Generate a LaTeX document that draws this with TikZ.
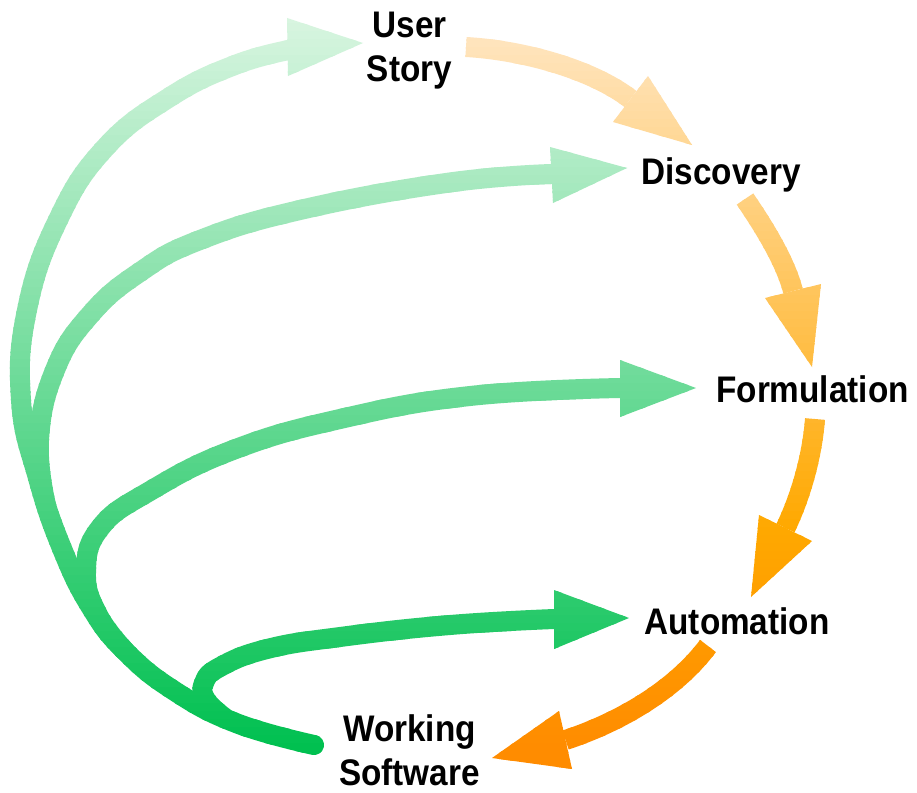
\documentclass[tikz,border=0pt]{standalone}
\usepackage{fontspec}
\newfontfamily\lblfont{Liberation Sans}[FakeStretch=0.9]
\usetikzlibrary{calc}

\tikzset{
  lbl/.style={font=\lblfont\bfseries\fontsize{37}{44.5}\selectfont, inner sep=0pt, anchor=base, text=black},
  gshaft/.style={draw=gband, line width=20pt, line cap=round, line join=round},
  oshaft/.style={draw=oband, line width=20pt, line cap=butt, line join=round},
  ghead/.style={fill=gband},
  ohead/.style={fill=oband},
}

\newcommand\greenpaths{%
  % main path: Working Software -> User Story
  \draw[gshaft] plot[smooth, tension=0.75] coordinates {(ws1) (236,723) (173,690) (125,651) (92,609) (63,551) (38,478) (21,400) (27,310) (58,220) (105,148) (170,97) (235,65) (289,50)};
  % branch to Discovery
  \draw[gshaft] plot[smooth, tension=0.75] coordinates {(46,505) (39,440) (55,370) (90,315) (140,272) (200,240) (300,210) (446,183) (dsB)};
  % branch to Formulation
  \draw[gshaft] plot[smooth, tension=0.75] coordinates {(125,651) (98,615) (86,573) (100,528) (150,491) (233,450) (340,419) (470,396) (fmB)};
  % branch to Automation
  \draw[gshaft] plot[smooth, tension=0.75] coordinates {(225,718) (206,700) (204,683) (220,667) (267,649) (340,637) (450,625) (auB)};
  \fill[ghead] (287,18) -- (288,76) -- (363,43) -- cycle;
  \fill[ghead] (550,147) -- (553,203) -- (627,168) -- cycle;
  \fill[ghead] (620,360) -- (620,417) -- (696,388) -- cycle;
  \fill[ghead] (554,590) -- (554,649) -- (629,618) -- cycle;
}
\newcommand\orangepaths{%
  \draw[oshaft] (o1s) .. controls (520,50) and (590,68) .. (630.5,99);
  \draw[oshaft] (o2s) .. controls (762,224) and (785,260) .. (793,291);
  \draw[oshaft] (o3s) .. controls (812,458) and (800,498) .. (785.5,528);
  \draw[oshaft] (o4s) .. controls (675,690) and (620,722) .. (565.5,740);
  \fill[ohead] (648,76) -- (613,122) -- (692,145) -- cycle;
  \fill[ohead] (765,298) -- (821,284) -- (812,367) -- cycle;
  \fill[ohead] (759,515) -- (812,541) -- (751,597) -- cycle;
  \fill[ohead] (559,711) -- (572,769) -- (492,758) -- cycle;
}

\begin{document}
\begin{tikzpicture}[x=1pt,y=-1pt]
  \fill[white] (0,0) rectangle (917,792);
  \useasboundingbox (0,0) rectangle (917,792);

  % labels
  \node[lbl] (us) at (409.5,37.3) {\begin{tabular}[t]{@{}c@{}}User\\Story\end{tabular}};
  \node[lbl] (disc) at (721,184.6) {Discovery};
  \node[lbl] (form) at (812.5,402.5) {Formulation};
  \node[lbl] (auto) at (737,634) {Automation};
  \node[lbl] (work) at (409.5,741) {\begin{tabular}[t]{@{}c@{}}Working\\Software\end{tabular}};

  % connector end points
  \coordinate (ws1) at (314,745);
  \coordinate (dsB) at (551,174);
  \coordinate (fmB) at (620,388);
  \coordinate (auB) at (554,619);
  \coordinate (o1s) at (466,47);
  \coordinate (o2s) at (745,199);
  \coordinate (o3s) at (815,419);
  \coordinate (o4s) at (708,646);

  % vertical colour gradient, drawn band by band
  \foreach \i in {0,...,98} {
    \pgfmathsetmacro\ya{\i*8}
    \pgfmathsetmacro\yb{\ya+8}
    \pgfmathsetmacro\ym{\ya+4}
    \pgfmathsetmacro\gt{max(0,min(1,(\ym-20)/730))}
    \pgfmathtruncatemacro\gr{round(216*(1-\gt))}
    \pgfmathtruncatemacro\gg{round(245-53*\gt)}
    \pgfmathtruncatemacro\gb{round(224-144*\gt)}
    \definecolor{gband}{RGB}{\gr,\gg,\gb}
    \pgfmathsetmacro\ot{max(0,min(1,(\ym-40)/490))}
    \pgfmathsetmacro\os{max(0,min(1,(\ym-530)/220))}
    \pgfmathtruncatemacro\og{round(228-60*\ot-28*\os)}
    \pgfmathtruncatemacro\ob{round(190*(1-\ot))}
    \definecolor{oband}{RGB}{255,\og,\ob}
    \begin{scope}
      \clip (0,\ya-0.6) rectangle (917,\yb+0.6);
      \greenpaths
      \orangepaths
    \end{scope}
  }
\end{tikzpicture}
\end{document}
